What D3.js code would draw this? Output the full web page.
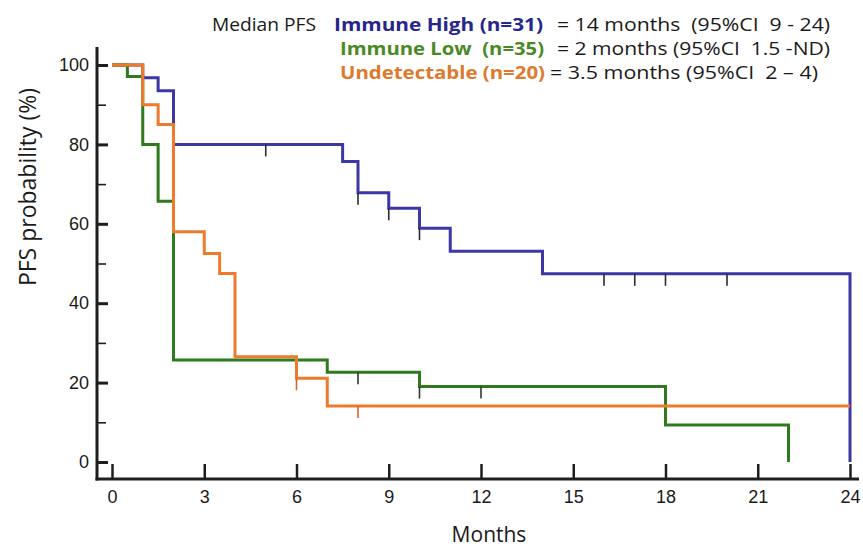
<!DOCTYPE html>
<html>
<head>
<meta charset="utf-8">
<script src="https://cdn.jsdelivr.net/npm/d3@7"></script>
<style>
  html, body { margin: 0; padding: 0; background: #fff; }
  svg { display: block; }
</style>
</head>
<body>
<svg id="chart" width="863" height="548"></svg>
<script>
// Kaplan–Meier step curves: event times (months) and survival (%)
const highTimes   = [0, 1, 1.5, 2, 7.5, 8, 9, 10, 11, 14, 24];
const highSurv    = [100, 96.8, 93.5, 80, 75.7, 67.8, 63.9, 58.9, 53.1, 47.4, 0];
const highCensor  = [5, 8, 9, 10, 16, 17, 18, 20];

const lowTimes    = [0, 0.5, 1, 1.5, 2, 7, 10, 18, 22];
const lowSurv     = [100, 97.1, 80, 65.7, 25.7, 22.6, 19.0, 9.3, 0];
const lowCensor   = [8, 10, 12];

const undTimes    = [0, 1, 1.5, 2, 3, 3.5, 4, 6, 7, 24];
const undSurv     = [100, 90, 85, 58, 52.5, 47.5, 26.5, 21.1, 14.1, 14.1];
const undCensor   = [6, 8];

const xTicks      = [0, 3, 6, 9, 12, 15, 18, 21, 24];
const yTicks      = [0, 20, 40, 60, 80, 100];
const yMinorTicks = [10, 30, 50, 70, 90];

const seriesNames = ["Immune High (n=31)", "Immune Low  (n=35)", "Undetectable (n=20)"];
const seriesStats = ["= 14 months  (95%CI  9 - 24)", "= 2 months (95%CI  1.5 -ND)", "= 3.5 months (95%CI  2 \u2013 4)"];

const svg = d3.select("#chart");
const x = d3.scaleLinear().domain([0, 24]).range([112, 850]);
const y = d3.scaleLinear().domain([0, 100]).range([462, 65]);

const axisColor = "#1e1e1e";
const tickFont = "'Liberation Sans', Arial, sans-serif";
const textFont = "'Open Sans', 'Noto Sans', sans-serif";

// y axis: major ticks point inward, labels on the left
const yAxis = svg.append("g")
  .attr("transform", "translate(97,0)")
  .call(d3.axisLeft(y).tickValues(yTicks).tickSizeInner(-11).tickSizeOuter(0).tickPadding(8));
yAxis.select(".domain").remove();
yAxis.selectAll(".tick line").attr("stroke", axisColor).attr("stroke-width", 3);
yAxis.selectAll(".tick text").attr("fill", "#1a1a1a").style("font", `18px ${tickFont}`);

// minor y ticks
const yMinor = svg.append("g")
  .attr("transform", "translate(97,0)")
  .call(d3.axisLeft(y).tickValues(yMinorTicks).tickSizeInner(-9).tickSizeOuter(0).tickFormat(""));
yMinor.select(".domain").remove();
yMinor.selectAll(".tick line").attr("stroke", axisColor).attr("stroke-width", 1.6);

// x axis: ticks point up into the plot
const xAxis = svg.append("g")
  .attr("transform", "translate(0,479)")
  .call(d3.axisBottom(x).tickValues(xTicks).tickSizeInner(-15).tickSizeOuter(0).tickPadding(11));
xAxis.select(".domain").remove();
xAxis.selectAll(".tick line").attr("stroke", axisColor).attr("stroke-width", 2.5);
xAxis.selectAll(".tick text").attr("fill", "#1a1a1a").style("font", `18px ${tickFont}`);

// axis lines
svg.append("line").attr("x1", 97).attr("x2", 97).attr("y1", 47).attr("y2", 480.5)
  .attr("stroke", axisColor).attr("stroke-width", 3);
svg.append("line").attr("x1", 95.5).attr("x2", 859).attr("y1", 479).attr("y2", 479)
  .attr("stroke", axisColor).attr("stroke-width", 3);

// axis titles
svg.append("text")
  .attr("transform", "translate(36,187) rotate(-90)")
  .attr("text-anchor", "middle")
  .attr("fill", "#1a1a1a")
  .style("font", `23px ${textFont}`)
  .text("PFS probability (%)");
svg.append("text")
  .attr("x", 489).attr("y", 542)
  .attr("text-anchor", "middle")
  .attr("fill", "#1a1a1a")
  .style("font", `21px ${textFont}`)
  .text("Months");

// survival curves
const series = [
  { t: highTimes, s: highSurv, c: highCensor, color: "#3d37a6", censorColor: "#2a2a3a" },
  { t: lowTimes,  s: lowSurv,  c: lowCensor,  color: "#2f7a1e", censorColor: "#2a3a2a" },
  { t: undTimes,  s: undSurv,  c: undCensor,  color: "#ee7a2b", censorColor: "#e0602a" }
];

const line = d3.line()
  .x(d => x(d[0]))
  .y(d => y(d[1]))
  .curve(d3.curveStepAfter);

function survivalAt(ser, t) {
  let v = ser.s[0];
  for (let i = 0; i < ser.t.length; i++) if (ser.t[i] <= t) v = ser.s[i];
  return v;
}

series.forEach(ser => {
  const pts = ser.t.map((t, i) => [t, ser.s[i]]);
  svg.append("path")
    .attr("d", line(pts))
    .attr("fill", "none")
    .attr("stroke", ser.color)
    .attr("stroke-width", 3)
    .attr("stroke-linejoin", "miter");
  svg.append("g").selectAll("line")
    .data(ser.c)
    .join("line")
    .attr("x1", d => x(d)).attr("x2", d => x(d))
    .attr("y1", d => y(survivalAt(ser, d)))
    .attr("y2", d => y(survivalAt(ser, d)) + 12)
    .attr("stroke", ser.censorColor)
    .attr("stroke-width", 1.6);
});

// median PFS legend
const legend = svg.append("g").style("font-family", textFont).style("font-size", "18px");
const rowY = [31, 55, 79];
const nameColors = ["#26268c", "#4a8a24", "#dc7a2e"];
legend.append("text").attr("x", 212).attr("y", rowY[0]).attr("fill", "#1a1a1a")
  .attr("textLength", 104).attr("lengthAdjust", "spacingAndGlyphs").text("Median PFS");
const nameX = [334, 340, 340], nameW = [209, 204, 205];
const statX = [557, 557, 550], statW = [273, 273, 268];
seriesNames.forEach((n, i) => {
  legend.append("text").attr("x", nameX[i]).attr("y", rowY[i])
    .attr("fill", nameColors[i]).attr("font-weight", "bold")
    .attr("textLength", nameW[i]).attr("lengthAdjust", "spacingAndGlyphs")
    .style("white-space", "pre").text(n);
  legend.append("text").attr("x", statX[i]).attr("y", rowY[i])
    .attr("fill", "#1a1a1a")
    .attr("textLength", statW[i]).attr("lengthAdjust", "spacingAndGlyphs")
    .style("white-space", "pre").text(seriesStats[i]);
});
</script>
</body>
</html>
